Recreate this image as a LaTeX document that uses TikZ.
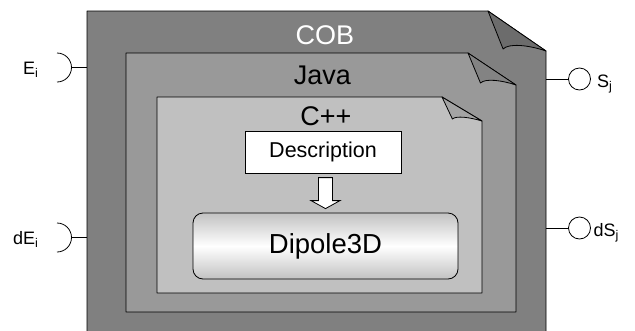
\documentclass[tikz,border=0pt]{standalone}
\usepackage{fontspec}
\setmainfont{Liberation Sans}
\usepackage{tikz}
\usetikzlibrary{calc}

\definecolor{cobgray}{HTML}{808080}
\definecolor{cobfold}{HTML}{6C6C6C}
\definecolor{javagray}{HTML}{999999}
\definecolor{javafold}{HTML}{838383}
\definecolor{cppgray}{HTML}{C0C0C0}
\definecolor{cppfold}{HTML}{A4A4A4}

% folded sheet: x1, y1, x2, y2, fold dx, fold dy, body colour, flap colour
\newcommand{\foldsheet}[8]{%
	\draw [sheetline, fill=#7] (#1,#2) -- (#3-#5,#2) -- (#3,#2+#6) -- (#3,#4) -- (#1,#4) -- cycle;
	\draw [sheetline, fill=#8] (#3-#5,#2) -- (#3-0.74*#5,#2+#6-2)
		.. controls +(0.1*#5,-0.15*#6) and +(-0.3*#5,-0.15*#6) .. (#3,#2+#6) -- cycle;
}

\tikzset{
	sheetline/.style={draw=black, line width=0.8pt, line join=round},
	title/.style={font=\fontsize{27}{27}\selectfont, inner sep=0pt},
	portlabel/.style={font=\fontsize{18}{18}\selectfont, inner sep=0pt, anchor=base west},
	plug/.style={circle, draw, fill=white, line width=0.8pt, minimum size=22pt, inner sep=0pt},
	wire/.style={line width=0.8pt},
}

\begin{document}
\begin{tikzpicture}[x=1pt,y=-1pt]
			\useasboundingbox (0,0) rectangle (635,330);

			\foldsheet{87}{11}{546}{345}{58}{40}{cobgray}{cobfold}
			\foldsheet{126}{53}{516}{312}{48}{32}{javagray}{javafold}
			\foldsheet{157}{97}{482}{293}{40}{24}{cppgray}{cppfold}

			\node [title, text=white] (cob) at (325,35) {COB};
			\node [title] (java) at (322.5,75) {Java};
			\node [title] (cpp) at (326,116) {C++};

			\node [draw, fill=white, line width=0.8pt, minimum width=156pt, minimum height=42pt,
				font=\fontsize{21.5}{22}\selectfont] (desc) at (323,152) {Description};
			\node [draw, line width=0.8pt, rounded corners=10pt, minimum width=265pt, minimum height=66pt,
				top color=black!24, bottom color=black!24, middle color=white,
				font=\fontsize{27.5}{28}\selectfont] (dip) at (325.5,246) {Dipole3D};

			% block arrow down to Dipole3D
			\coordinate (tip) at ($(dip.north)+(0,-4)$);
			\draw [fill=white, line width=0.8pt, line join=miter] (tip) -- +(-14.5,-8) -- +(-7,-8) -- +(-7,-31)
				-- +(7,-31) -- +(7,-8) -- +(14.5,-8) -- cycle;

			% inputs
			\foreach \y/\lab/\x in {67.5/E\textsubscript{i}/23, 237.5/dE\textsubscript{i}/13} {
				\draw [wire] (57,\y-14.5) arc [start angle=-90, end angle=90, radius=14.5];
				\coordinate (plug) at (71.5,\y);
				\coordinate (edge) at (87,\y);
				\draw [wire] (plug) -- (edge);
				\node [portlabel] (lab) at (\x,\y+7) {\lab};
			}

			% outputs
			\foreach \y/\lab/\x in {79/S\textsubscript{j}/597, 228/dS\textsubscript{j}/593.5} {
				\coordinate (edge) at (546,\y);
				\node [plug] (out) at (579.5,\y) {};
				\draw [wire] (edge) -- (out);
				\node [portlabel] (lab) at (\x,\y+8.5) {\lab};
			}
		\end{tikzpicture}
\end{document}
